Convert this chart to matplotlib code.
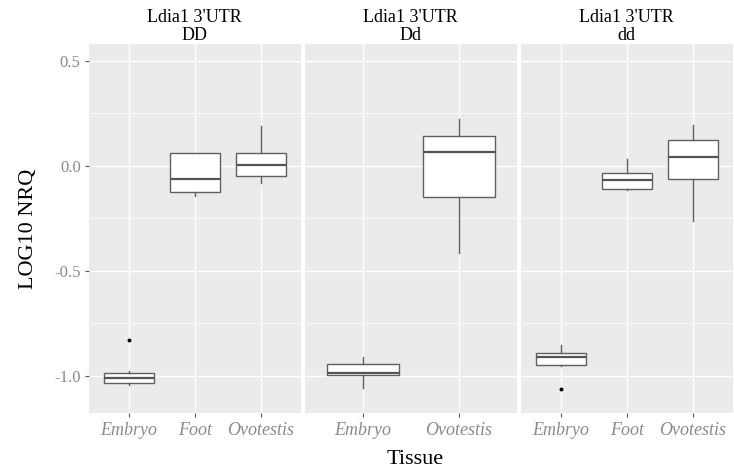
import matplotlib
matplotlib.use('Agg')
import matplotlib.pyplot as plt
from matplotlib.ticker import MultipleLocator

plt.rcParams['font.family'] = ['Liberation Serif', 'DejaVu Serif']

# facets and the tissues present in each
genotypes = ['DD', 'Dd', 'dd']
tissues = {'DD': ['Embryo', 'Foot', 'Ovotestis'],
           'Dd': ['Embryo', 'Ovotestis'],
           'dd': ['Embryo', 'Foot', 'Ovotestis']}

# box stats (log10 NRQ)
whislo = {'DD': [-1.041, -0.141, -0.080], 'Dd': [-1.056, -0.413], 'dd': [-0.951, -0.113, -0.262]}
q1 = {'DD': [-1.035, -0.125, -0.046], 'Dd': [-0.994, -0.149], 'dd': [-0.948, -0.108, -0.060]}
med = {'DD': [-1.010, -0.062, 0.005], 'Dd': [-0.984, 0.068], 'dd': [-0.908, -0.068, 0.043]}
q3 = {'DD': [-0.986, 0.060, 0.063], 'Dd': [-0.944, 0.141], 'dd': [-0.892, -0.032, 0.125]}
whishi = {'DD': [-0.975, 0.062, 0.190], 'Dd': [-0.908, 0.222], 'dd': [-0.854, 0.035, 0.195]}
outliers = {'DD': [[-0.829], [], []], 'Dd': [[], []], 'dd': [[-1.063], [], []]}

fig = plt.figure(figsize=(7.34, 4.75), dpi=100)
W, H = 734, 475
lefts = [89, 305, 521]
pw = 211.7
top, bot = 44, 413.3

for i, g in enumerate(genotypes):
    ax = fig.add_axes([lefts[i] / W, (H - bot) / H, pw / W, (bot - top) / H])
    ax.set_facecolor('#EBEBEB')
    n = len(tissues[g])
    stats = []
    for k in range(n):
        stats.append({'whislo': whislo[g][k], 'q1': q1[g][k], 'med': med[g][k],
                      'q3': q3[g][k], 'whishi': whishi[g][k], 'fliers': outliers[g][k]})
    pos = list(range(1, n + 1))
    ax.bxp(stats, positions=pos, widths=0.75, showcaps=False, patch_artist=True,
           boxprops=dict(facecolor='white', edgecolor='#606060', linewidth=1.0),
           medianprops=dict(color='#555555', linewidth=1.6),
           whiskerprops=dict(color='#606060', linewidth=1.0),
           flierprops=dict(marker='o', markersize=1.8, markerfacecolor='black',
                           markeredgecolor='black'),
           zorder=3)
    ax.set_xlim(0.4, n + 0.6)
    ax.set_ylim(-1.178, 0.581)
    ax.yaxis.set_major_locator(MultipleLocator(0.5))
    ax.yaxis.set_minor_locator(MultipleLocator(0.25))
    ax.grid(True, which='major', color='white', linewidth=1.0, zorder=0)
    ax.grid(True, which='minor', axis='y', color='white', linewidth=0.5, zorder=0)
    ax.set_axisbelow(True)
    for s in ax.spines.values():
        s.set_visible(False)
    ax.set_xticks(pos)
    ax.set_xticklabels(tissues[g], fontsize=13, style='italic', color='#8A8A8A')
    ax.tick_params(axis='x', length=3, color='#555555', pad=3)
    ax.tick_params(axis='y', which='minor', length=0)
    if i == 0:
        ax.set_yticks([-1.0, -0.5, 0.0, 0.5])
        ax.set_yticklabels(['-1.0', '-0.5', '0.0', '0.5'], fontsize=12, color='#8A8A8A')
        ax.tick_params(axis='y', which='major', length=3, color='#555555', pad=3)
        ax.set_ylabel('LOG10 NRQ', fontsize=16, labelpad=12)
    else:
        ax.tick_params(axis='y', which='major', length=0, labelleft=False)
    ax.set_title("Ldia1 3'UTR\n" + g, fontsize=13, pad=3, linespacing=1.05)

fig.text(415 / W, 1 - 460 / H, 'Tissue', fontsize=16, ha='center', va='center')

fig.savefig('out.png', dpi=100)
